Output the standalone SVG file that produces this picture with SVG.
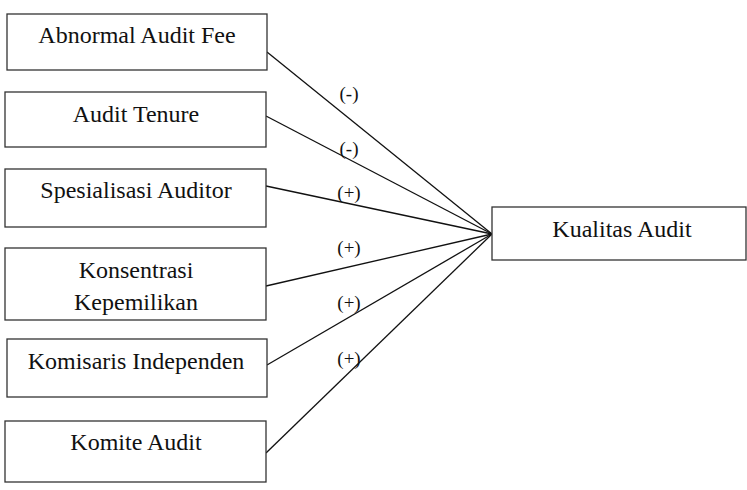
<svg xmlns="http://www.w3.org/2000/svg" width="747" height="490" viewBox="0 0 747 490">
<style>
.box{fill:#fff;stroke:#333;stroke-width:1.3}
.t{font-family:"Liberation Serif","Times New Roman",serif;font-size:24px;fill:#111;text-anchor:middle}
.l{font-family:"Liberation Serif","Times New Roman",serif;font-size:19px;fill:#111;text-anchor:middle}
.c{stroke:#111;stroke-width:1.3;fill:none}
</style>
<rect width="747" height="490" fill="#fff"/>
<g id="connectors">
<line class="c" x1="267" y1="52" x2="492" y2="234"/>
<line class="c" x1="266" y1="116" x2="492" y2="234"/>
<line class="c" x1="266" y1="186" x2="492" y2="234"/>
<line class="c" x1="266" y1="286" x2="492" y2="234"/>
<line class="c" x1="267" y1="365" x2="492" y2="234"/>
<line class="c" x1="266" y1="453" x2="492" y2="234"/>
<text class="l" x="349" y="100">(-)</text>
<text class="l" x="349" y="155">(-)</text>
<text class="l" x="349" y="199">(+)</text>
<text class="l" x="349" y="254">(+)</text>
<text class="l" x="349" y="309">(+)</text>
<text class="l" x="349" y="365">(+)</text>
</g>
<g id="abnormal-audit-fee"><rect class="box" x="7" y="14" width="260" height="56"/><text class="t" x="137" y="43">Abnormal Audit Fee</text></g>
<g id="audit-tenure"><rect class="box" x="5" y="92" width="261" height="55"/><text class="t" x="136" y="122">Audit Tenure</text></g>
<g id="spesialisasi-auditor"><rect class="box" x="5" y="169" width="261" height="58"/><text class="t" x="136" y="198">Spesialisasi Auditor</text></g>
<g id="konsentrasi-kepemilikan"><rect class="box" x="5" y="248" width="261" height="72"/><text class="t" x="136" y="278">Konsentrasi</text><text class="t" x="136" y="310">Kepemilikan</text></g>
<g id="komisaris-independen"><rect class="box" x="7" y="339" width="260" height="58"/><text class="t" x="136" y="369">Komisaris Independen</text></g>
<g id="komite-audit"><rect class="box" x="5" y="421" width="261" height="61"/><text class="t" x="136" y="450">Komite Audit</text></g>
<g id="kualitas-audit"><rect class="box" x="492" y="207" width="254" height="53"/><text class="t" x="622" y="237">Kualitas Audit</text></g>
</svg>
